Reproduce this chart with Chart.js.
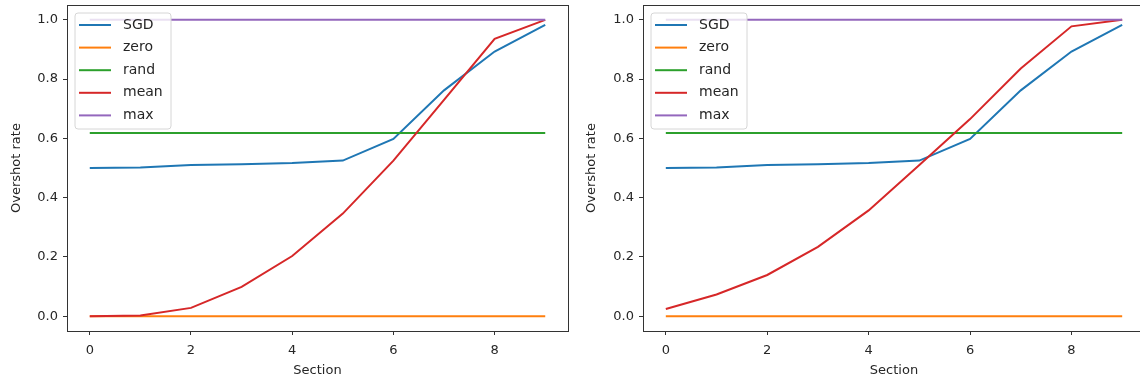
<!DOCTYPE html>
<html>
<head>
<meta charset="utf-8">
<script src="https://cdn.jsdelivr.net/npm/chart.js@4.4.0/dist/chart.umd.min.js"></script>
<style>
  html, body { margin: 0; padding: 0; background: #fff; }
  #wrap { position: relative; width: 1140px; height: 383px; overflow: hidden; }
  .box { position: absolute; top: 0; height: 383px; }
</style>
</head>
<body>
<div id="wrap">
  <div class="box" style="left:0; width:575px;"><canvas id="chart_left"></canvas></div>
  <div class="box" style="left:575px; width:575px;"><canvas id="chart_right"></canvas></div>
</div>
<script>
// DATA
var sections = [0, 1, 2, 3, 4, 5, 6, 7, 8, 9];
var seriesNames = ['SGD', 'zero', 'rand', 'mean', 'max'];
var seriesColors = ['#1f77b4', '#ff7f0e', '#2ca02c', '#d62728', '#9467bd'];

var sgdLeft   = [0.500, 0.502, 0.510, 0.513, 0.517, 0.525, 0.598, 0.762, 0.893, 0.983];
var zeroLeft  = [0, 0, 0, 0, 0, 0, 0, 0, 0, 0];
var randLeft  = [0.618, 0.618, 0.618, 0.618, 0.618, 0.618, 0.618, 0.618, 0.618, 0.618];
var meanLeft  = [0.000, 0.002, 0.028, 0.099, 0.203, 0.346, 0.525, 0.730, 0.936, 1.000];
var maxLeft   = [1, 1, 1, 1, 1, 1, 1, 1, 1, 1];

var sgdRight  = [0.500, 0.502, 0.510, 0.513, 0.517, 0.525, 0.598, 0.762, 0.893, 0.983];
var zeroRight = [0, 0, 0, 0, 0, 0, 0, 0, 0, 0];
var randRight = [0.618, 0.618, 0.618, 0.618, 0.618, 0.618, 0.618, 0.618, 0.618, 0.618];
var meanRight = [0.024, 0.073, 0.139, 0.234, 0.357, 0.510, 0.665, 0.836, 0.978, 1.000];
var maxRight  = [1, 1, 1, 1, 1, 1, 1, 1, 1, 1];

var xTicks = [0, 2, 4, 6, 8];
var yTicks = [0, 0.2, 0.4, 0.6, 0.8, 1.0];

var FONT = "'DejaVu Sans', sans-serif";
var TXT = '#262626';

// TURN ONE LIST OF VALUES INTO {x, y} POINTS
function toPoints(arr) {
	var pts = [];
	for (var i = 0; i < arr.length; i++) {
		pts.push({ x: sections[i], y: arr[i] });
	}
	return pts;
}

// FRAME ROUND THE PLOT AREA + LEGEND IN THE UPPER LEFT
var framePlugin = {
	id: 'frame',
	afterDraw: function(chart) {
		var a = chart.chartArea;
		var ctx = chart.ctx;
		ctx.save();
		ctx.strokeStyle = '#333';
		ctx.lineWidth = 1;
		ctx.strokeRect(Math.round(a.left) + 0.5, Math.round(a.top) + 0.5,
			Math.round(a.right - a.left), Math.round(a.bottom - a.top));

		// legend
		var bx = a.left + 8, by = a.top + 8, bw = 96, bh = 116, r = 3;
		ctx.beginPath();
		ctx.moveTo(bx + r, by);
		ctx.arcTo(bx + bw, by, bx + bw, by + bh, r);
		ctx.arcTo(bx + bw, by + bh, bx, by + bh, r);
		ctx.arcTo(bx, by + bh, bx, by, r);
		ctx.arcTo(bx, by, bx + bw, by, r);
		ctx.closePath();
		ctx.fillStyle = 'rgba(255,255,255,0.8)';
		ctx.fill();
		ctx.strokeStyle = '#d6d6d6';
		ctx.stroke();

		ctx.font = '14px ' + FONT;
		ctx.textBaseline = 'middle';
		ctx.textAlign = 'left';
		for (var i = 0; i < seriesNames.length; i++) {
			var ly = by + 12 + i * 22.6;
			ctx.strokeStyle = seriesColors[i];
			ctx.lineWidth = 2;
			ctx.beginPath();
			ctx.moveTo(bx + 4, ly);
			ctx.lineTo(bx + 36, ly);
			ctx.stroke();
			ctx.fillStyle = TXT;
			ctx.fillText(seriesNames[i], bx + 48, ly);
		}
		ctx.restore();
	}
};

function makeChart(canvasId, lists, yAxisWidth, padRight) {
	var datasets = [];
	for (var i = 0; i < lists.length; i++) {
		datasets.push({
			label: seriesNames[i],
			data: toPoints(lists[i]),
			borderColor: seriesColors[i],
			backgroundColor: seriesColors[i],
			borderWidth: 2,
			pointRadius: 0,
			tension: 0,
			order: lists.length - i
		});
	}

	return new Chart(document.getElementById(canvasId), {
		type: 'line',
		data: { datasets: datasets },
		plugins: [framePlugin],
		options: {
			responsive: true,
			maintainAspectRatio: false,
			animation: false,
			layout: { padding: { top: 5, right: padRight, left: 0, bottom: 0 } },
			plugins: {
				legend: { display: false },
				tooltip: { enabled: false }
			},
			scales: {
				x: {
					type: 'linear',
					min: -0.45,
					max: 9.45,
					afterBuildTicks: function(scale) {
						scale.ticks = xTicks.map(function(v) { return { value: v }; });
					},
					afterFit: function(scale) {
						scale.height = 52;
						scale.paddingLeft = 0;
						scale.paddingRight = 0;
					},
					border: { display: false },
					grid: { drawOnChartArea: false, drawTicks: true, tickLength: 4, color: '#333' },
					ticks: {
						color: TXT,
						font: { family: FONT, size: 13 },
						padding: 8,
						maxRotation: 0,
						callback: function(v) { return String(v); }
					},
					title: {
						display: true,
						text: 'Section',
						color: TXT,
						font: { family: FONT, size: 13 },
						padding: { top: 1, bottom: 5 }
					}
				},
				y: {
					type: 'linear',
					min: -0.05,
					max: 1.05,
					afterBuildTicks: function(scale) {
						scale.ticks = yTicks.map(function(v) { return { value: v }; });
					},
					afterFit: function(scale) {
						scale.width = yAxisWidth;
						scale.paddingTop = 0;
						scale.paddingBottom = 0;
					},
					border: { display: false },
					grid: { drawOnChartArea: false, drawTicks: true, tickLength: 4, color: '#333' },
					ticks: {
						color: TXT,
						font: { family: FONT, size: 13 },
						padding: 5,
						callback: function(v) { return Number(v).toFixed(1); }
					},
					title: {
						display: true,
						text: 'Overshot rate',
						color: TXT,
						font: { family: FONT, size: 13 },
						padding: { top: 9, bottom: 4 }
					}
				}
			}
		}
	});
}

makeChart('chart_left', [sgdLeft, zeroLeft, randLeft, meanLeft, maxLeft], 67, 7);
// right panel runs past the page edge in the reference, so its frame is cut off
makeChart('chart_right', [sgdRight, zeroRight, randRight, meanRight, maxRight], 68, 5);
</script>
</body>
</html>
